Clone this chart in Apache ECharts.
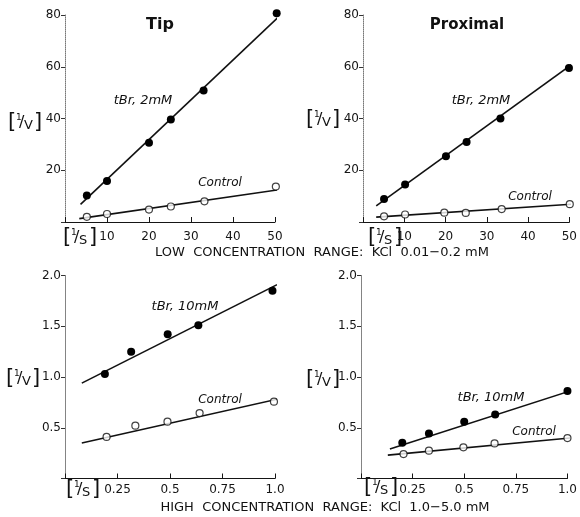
<!DOCTYPE html>
<html>
<head>
<meta charset="utf-8">
<script src="https://cdn.jsdelivr.net/npm/echarts@6/dist/echarts.min.js"></script>
<style>
  html, body { margin: 0; padding: 0; background: #fff; }
  #main { width: 580px; height: 517px; }
</style>
</head>
<body>
<div id="main"></div>
<script>
/* 1/V vs 1/S, tip and proximal, low and high KCl range */
var FONT = '"DejaVu Sans", sans-serif';

// low concentration range (top panels)
var tipLowTbrX = [5.2, 10, 20, 25.2, 33, 50.4];
var tipLowTbrY = [10.2, 15.8, 30.6, 39.6, 50.8, 80.7];
var tipLowCtlX = [5.2, 10, 20, 25.2, 33.2, 50.2];
var tipLowCtlY = [2.0, 3.1, 4.8, 6.0, 8.0, 13.7];
var tipLowTbrFit = [[3.7, 6.8], [52.6, 82]];
var tipLowCtlFit = [[3.4, 1.3], [53.5, 13.1]];

var proxLowTbrX = [5.1, 10.2, 20.1, 25.1, 33.3, 49.9];
var proxLowTbrY = [8.9, 14.5, 25.4, 30.9, 40.0, 59.5];
var proxLowCtlX = [5.1, 10.2, 19.7, 24.9, 33.6, 50.1];
var proxLowCtlY = [2.2, 2.9, 3.6, 3.5, 5.0, 6.9];
var proxLowTbrFit = [[3.2, 6.2], [51.8, 62.3]];
var proxLowCtlFit = [[3.2, 1.9], [51.8, 7.0]];

// high concentration range (bottom panels)
var tipHighTbrX = [0.19, 0.315, 0.489, 0.635, 0.988];
var tipHighTbrY = [1.03, 1.25, 1.42, 1.51, 1.85];
var tipHighCtlX = [0.198, 0.335, 0.488, 0.641, 0.995];
var tipHighCtlY = [0.41, 0.52, 0.56, 0.645, 0.757];
var tipHighTbrFit = [[0.08, 0.94], [1.01, 1.91]];
var tipHighCtlFit = [[0.08, 0.35], [1.05, 0.80]];

var proxHighTbrX = [0.2, 0.329, 0.5, 0.65, 1.0];
var proxHighTbrY = [0.352, 0.444, 0.559, 0.631, 0.861];
var proxHighCtlX = [0.206, 0.329, 0.496, 0.647, 1.0];
var proxHighCtlY = [0.241, 0.274, 0.307, 0.346, 0.398];
var proxHighTbrFit = [[0.14, 0.29], [1.04, 0.88]];
var proxHighCtlFit = [[0.13, 0.23], [1.04, 0.405]];

// tick labels
var lowXTicks = ['10', '20', '30', '40', '50'];
var lowYTicks = ['20', '40', '60', '80'];
var highXTicks = ['0.25', '0.5', '0.75', '1.0'];
var highYTicks = ['0.5', '1.0', '1.5', '2.0'];

function pts(xs, ys) {
    return xs.map(function (x, i) { return [x, ys[i]]; });
}

function tickFmt(list, step) {
    return function (v) {
        var i = Math.round(v / step) - 1;
        return i >= 0 ? (list[i] || '') : '';
    };
}

function xAx(g, max, step, list, margin) {
    return {
        type: 'value', gridIndex: g, min: 0, max: max, interval: step,
        axisLine: { show: true, lineStyle: { color: '#151515', width: 1 } },
        axisTick: { show: true, inside: true, length: 5, lineStyle: { color: '#151515' } },
        axisLabel: { formatter: tickFmt(list, step), margin: margin, fontSize: 12, color: '#151515', fontFamily: FONT },
        splitLine: { show: false }
    };
}

function yAx(g, max, step, list) {
    return {
        type: 'value', gridIndex: g, min: 0, max: max, interval: step,
        axisLine: { show: true, lineStyle: { color: '#777', width: 1, type: 'dotted' } },
        axisTick: { show: true, length: 4, lineStyle: { color: '#333' } },
        axisLabel: { formatter: tickFmt(list, step), margin: 4, fontSize: 12, color: '#151515', fontFamily: FONT },
        splitLine: { show: false }
    };
}

function fitLine(g, data) {
    return {
        type: 'line', xAxisIndex: g, yAxisIndex: g, data: data, symbol: 'none', clip: false, silent: true,
        lineStyle: { color: '#111', width: 1.6 }, z: 2
    };
}

function dots(g, data, open) {
    return {
        type: 'scatter', xAxisIndex: g, yAxisIndex: g, data: data, symbolSize: open ? 7 : 8, clip: false, z: 3,
        itemStyle: open ? { color: '#fff', borderColor: '#111', borderWidth: 1.2 } : { color: '#000', opacity: 1 }
    };
}

function txt(x, y, s, size, extra) {
    var st = { text: s, fontSize: size, fontFamily: FONT, fill: '#111', textAlign: 'center', textVerticalAlign: 'middle' };
    for (var k in (extra || {})) st[k] = extra[k];
    return { type: 'text', x: x, y: y, style: st };
}

// [1/V] or [1/S] bracket label, x = left edge, y = centre
function recip(x, y, letter) {
    var l = { textAlign: 'left' };
    return {
        type: 'group', x: x, y: y,
        children: [
            txt(0, 0, '[', 21, l),
            txt(8, -5, '1', 9, l),
            txt(11, 0, '/', 16, l),
            txt(16, 3, letter, 13, l),
            txt(26, 0, ']', 21, l)
        ]
    };
}

var myChart = echarts.init(document.getElementById('main'));

var option = {
    animation: false,
    backgroundColor: '#fff',
    grid: [
        { left: 65, top: 15, width: 210, height: 207 },
        { left: 363, top: 15, width: 209.5, height: 207 },
        { left: 65, top: 275.5, width: 210, height: 203 },
        { left: 361, top: 275.5, width: 211, height: 203 }
    ],
    xAxis: [
        xAx(0, 50, 10, lowXTicks, 9),
        xAx(1, 50, 10, lowXTicks, 9),
        xAx(2, 1, 0.25, highXTicks, 5),
        xAx(3, 1, 0.25, highXTicks, 5)
    ],
    yAxis: [
        yAx(0, 80, 20, lowYTicks),
        yAx(1, 80, 20, lowYTicks),
        yAx(2, 2, 0.5, highYTicks),
        yAx(3, 2, 0.5, highYTicks)
    ],
    series: [
        fitLine(0, tipLowTbrFit), fitLine(0, tipLowCtlFit),
        dots(0, pts(tipLowTbrX, tipLowTbrY), false), dots(0, pts(tipLowCtlX, tipLowCtlY), true),
        fitLine(1, proxLowTbrFit), fitLine(1, proxLowCtlFit),
        dots(1, pts(proxLowTbrX, proxLowTbrY), false), dots(1, pts(proxLowCtlX, proxLowCtlY), true),
        fitLine(2, tipHighTbrFit), fitLine(2, tipHighCtlFit),
        dots(2, pts(tipHighTbrX, tipHighTbrY), false), dots(2, pts(tipHighCtlX, tipHighCtlY), true),
        fitLine(3, proxHighTbrFit), fitLine(3, proxHighCtlFit),
        dots(3, pts(proxHighTbrX, proxHighTbrY), false), dots(3, pts(proxHighCtlX, proxHighCtlY), true)
    ],
    graphic: [
        txt(160, 25, 'Tip', 16, { fontWeight: 'bold' }),
        txt(467, 25, 'Proximal', 15, { fontWeight: 'bold' }),
        txt(143, 101, 'tBr, 2mM', 13, { fontStyle: 'italic' }),
        txt(481, 101, 'tBr, 2mM', 13, { fontStyle: 'italic' }),
        txt(185, 307, 'tBr, 10mM', 13, { fontStyle: 'italic' }),
        txt(491, 398, 'tBr, 10mM', 13, { fontStyle: 'italic' }),
        txt(220, 183, 'Control', 12, { fontStyle: 'italic' }),
        txt(530, 197, 'Control', 12, { fontStyle: 'italic' }),
        txt(220, 400, 'Control', 12, { fontStyle: 'italic' }),
        txt(534, 432, 'Control', 12, { fontStyle: 'italic' }),
        recip(8, 123, 'V'),
        recip(306, 120, 'V'),
        recip(6, 379, 'V'),
        recip(306, 380, 'V'),
        recip(63, 238, 'S'),
        recip(368, 238, 'S'),
        recip(66, 490, 'S'),
        recip(364, 488, 'S'),
        txt(322, 253, 'LOW  CONCENTRATION  RANGE:  KCl  0.01\u22120.2 mM', 13),
        txt(325, 508, 'HIGH  CONCENTRATION  RANGE:  KCl  1.0\u22125.0 mM', 13)
    ]
};

myChart.setOption(option);
</script>
</body>
</html>
